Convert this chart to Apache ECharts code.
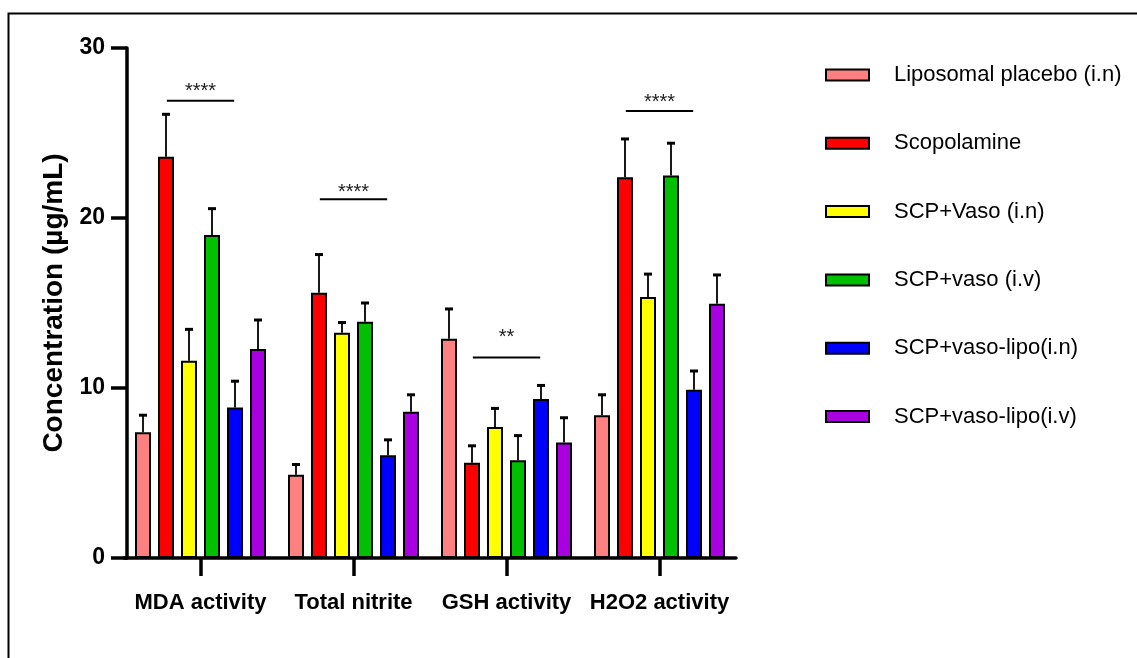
<!DOCTYPE html>
<html>
<head>
<meta charset="utf-8">
<script src="https://cdn.jsdelivr.net/npm/echarts@6/dist/echarts.min.js"></script>
<style>
  html, body { margin: 0; padding: 0; background: #fff; }
  #chart { width: 1137px; height: 658px; }
</style>
</head>
<body>
<div id="chart"></div>
<script>
// categories and groups
var categories = ['MDA activity', 'Total nitrite', 'GSH activity', 'H2O2 activity'];
var groupNames = ['Liposomal placebo (i.n)', 'Scopolamine', 'SCP+Vaso (i.n)', 'SCP+vaso (i.v)', 'SCP+vaso-lipo(i.n)', 'SCP+vaso-lipo(i.v)'];

// means per group (one value per category)
var placebo = [7.4, 4.9, 12.9, 8.4];
var scopolamine = [23.6, 15.6, 5.6, 22.4];
var vasoIn = [11.6, 13.25, 7.7, 15.35];
var vasoIv = [19.0, 13.9, 5.75, 22.5];
var lipoIn = [8.85, 6.05, 9.35, 9.9];
var lipoIv = [12.3, 8.6, 6.8, 14.95];

// error (upper part of SD)
var placeboErr = [1.0, 0.6, 1.75, 1.2];
var scopolamineErr = [2.5, 2.25, 1.0, 2.25];
var vasoInErr = [1.85, 0.6, 1.1, 1.35];
var vasoIvErr = [1.55, 1.1, 1.45, 1.9];
var lipoInErr = [1.55, 0.9, 0.8, 1.1];
var lipoIvErr = [1.7, 1.0, 1.45, 1.7];

// significance marks
var sigLineY = [26.9, 21.1, 11.8, 26.3];
var sigLabelY = [27.7, 21.75, 13.2, 27.05];
var sigLabels = ['****', '****', '**', '****'];

var means = [placebo, scopolamine, vasoIn, vasoIv, lipoIn, lipoIv];
var errs = [placeboErr, scopolamineErr, vasoInErr, vasoIvErr, lipoInErr, lipoIvErr];
var colors = ['#FF8080', '#FF0000', '#FFFF00', '#00C000', '#0000FF', '#A800E0'];

var sans = '"Liberation Sans", Arial, sans-serif';
var barW = 16;
var pitch = 23;

var chart = echarts.init(document.getElementById('chart'));

var series = [];
means.forEach(function (vals, i) {
  series.push({
    name: groupNames[i],
    type: 'bar',
    data: vals,
    barWidth: barW,
    barGap: ((pitch - barW) / barW * 100) + '%',
    itemStyle: { color: colors[i], borderColor: '#000', borderWidth: 2 },
    z: 2
  });
});

// error bars, drawn through the category/value axes
means.forEach(function (vals, i) {
  var d = vals.map(function (v, k) { return [k, v, v + errs[i][k]]; });
  series.push({
    name: 'err' + i,
    type: 'custom',
    data: d,
    z: 3,
    silent: true,
    clip: false,
    renderItem: function (params, api) {
      var base = api.coord([api.value(0), api.value(1)]);
      var top = api.coord([api.value(0), api.value(2)]);
      var x = base[0] + (i - 2.5) * pitch;
      return {
        type: 'group',
        children: [
          { type: 'line', shape: { x1: x, y1: base[1], x2: x, y2: top[1] },
            style: { stroke: '#000', lineWidth: 1.8 } },
          { type: 'line', shape: { x1: x - 4, y1: top[1], x2: x + 4, y2: top[1] },
            style: { stroke: '#000', lineWidth: 3 } }
        ]
      };
    }
  });
});

// significance bars
series.push({
  name: 'sig',
  type: 'custom',
  data: sigLineY.map(function (y, k) { return [k, y, sigLabelY[k]]; }),
  z: 4,
  silent: true,
  clip: false,
  renderItem: function (params, api) {
    var p = api.coord([api.value(0), api.value(1)]);
    var t = api.coord([api.value(0), api.value(2)]);
    var half = api.size([1, 0])[0] * 0.22;
    return {
      type: 'group',
      children: [
        { type: 'line', shape: { x1: p[0] - half, y1: p[1], x2: p[0] + half, y2: p[1] },
          style: { stroke: '#000', lineWidth: 2 } },
        { type: 'text', x: p[0], y: t[1] + 4,
          style: { text: sigLabels[params.dataIndex], fill: '#222', font: '20px ' + sans,
                   align: 'center', verticalAlign: 'middle' } }
      ]
    };
  }
});

var option = {
  animation: false,
  backgroundColor: '#fff',
  graphic: [{
    type: 'rect',
    left: 6, top: 11,
    shape: { width: 1300, height: 800 },
    style: { fill: null, stroke: '#000', lineWidth: 2 },
    silent: true
  }],
  legend: {
    data: groupNames,
    orient: 'vertical',
    left: 825,
    top: 64,
    padding: 0,
    itemWidth: 43,
    itemHeight: 11,
    itemGap: 46.3,
    icon: 'rect',
    textStyle: {
      fontFamily: sans,
      fontSize: 22,
      lineHeight: 22,
      color: '#000',
      padding: [0, 0, 0, 20]
    }
  },
  grid: { left: 124, right: 401, top: 48, bottom: 100, containLabel: false },
  xAxis: {
    type: 'category',
    data: categories,
    axisLine: { lineStyle: { color: '#000', width: 3.5 } },
    axisTick: { show: true, alignWithLabel: true, length: 18, lineStyle: { width: 3.5, color: '#000' } },
    axisLabel: { color: '#000', fontFamily: sans, fontWeight: 'bold', fontSize: 22, margin: 34, interval: 0 }
  },
  yAxis: {
    type: 'value',
    min: 0, max: 30, interval: 10,
    offset: -3,
    name: 'Concentration (µg/mL)',
    nameLocation: 'middle',
    nameRotate: 90,
    nameGap: 55,
    nameTextStyle: { color: '#000', fontFamily: sans, fontWeight: 'bold', fontSize: 28, padding: [0, 0, 0, 0] },
    splitLine: { show: false },
    axisLine: { show: true, lineStyle: { color: '#000', width: 3.5 } },
    axisTick: { show: true, length: 16, lineStyle: { width: 3.5, color: '#000' } },
    axisLabel: { color: '#000', fontFamily: sans, fontWeight: 'bold', fontSize: 23, margin: 22 }
  },
  series: series
};

chart.setOption(option);
</script>
</body>
</html>
